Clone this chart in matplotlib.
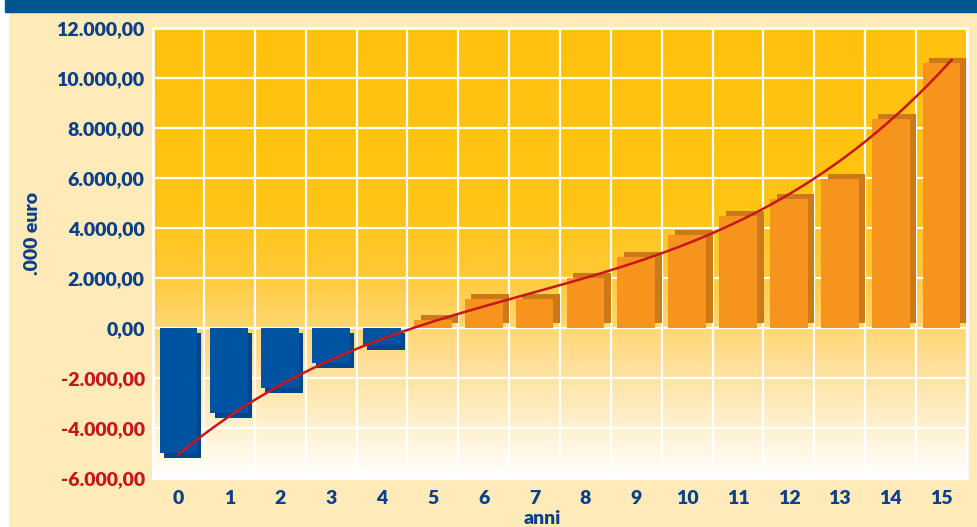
import numpy as np
import matplotlib
matplotlib.use("Agg")
import matplotlib.pyplot as plt
from matplotlib.colors import LinearSegmentedColormap
from matplotlib.patches import Rectangle

# Data (migliaia di euro)
anni = list(range(16))
valori = [-5000, -3400, -2400, -1400, -680, 320, 1160, 1150,
          2000, 2840, 3720, 4480, 5160, 5960, 8360, 10600]
y_ticks = [-6000, -4000, -2000, 0, 2000, 4000, 6000, 8000, 10000, 12000]

BLU = "#0c3f88"
ROSSO = "#c8161d"

plt.rcParams["font.family"] = ["Lato", "DejaVu Sans"]
plt.rcParams["font.weight"] = "heavy"

fig = plt.figure(figsize=(9.78, 5.27), dpi=100, facecolor="#ffebb9")

# white strip on the left and blue band on top
fig.patches.append(Rectangle((0, 0), 8 / 978, 1, transform=fig.transFigure,
                             color="white", zorder=0))
fig.patches.append(Rectangle((5 / 978, 1 - 12 / 527), 1, 12 / 527,
                             transform=fig.transFigure, color="#00558c", zorder=1))

ax = fig.add_axes([153 / 978, 49 / 527, 814 / 978, 450 / 527])
ax.set_xlim(-0.5, 15.5)
ax.set_ylim(-6000, 12000)

# background gradient: yellow on top, fading to white at the bottom
cmap = LinearSegmentedColormap.from_list("sfondo", [
    (0.0, "#ffffff"), (0.12, "#fff0cc"), (0.25, "#ffe09a"),
    (0.36, "#ffd466"), (0.46, "#ffc934"), (0.6, "#ffc414"), (1.0, "#ffc10e")])
grad = np.linspace(0, 1, 256).reshape(-1, 1)
ax.imshow(grad, cmap=cmap, origin="lower", aspect="auto",
          extent=[-0.5, 15.5, -6000, 12000], zorder=0)

# grid
ax.set_xticks(anni)
ax.set_xticks(np.arange(-0.5, 16, 1), minor=True)
ax.set_yticks(y_ticks)
ax.grid(which="minor", axis="x", color="white", lw=1.6, zorder=1)
ax.grid(which="major", axis="y", color="white", lw=1.6, zorder=1)
ax.tick_params(which="both", length=0)
for s in ax.spines.values():
    s.set_color("white")
    s.set_linewidth(2)

# bars with a shifted "shadow" behind them
larg = 0.74
for x, v in zip(anni, valori):
    if v < 0:
        ax.bar(x + 0.08, v, width=larg, bottom=-200, color="#00468e", zorder=2)
        ax.bar(x, v, width=larg, color="#0053a1", zorder=3)
    else:
        ax.bar(x + 0.13, v, width=larg, bottom=200, color="#cc7a17", zorder=2)
        ax.bar(x, v, width=larg, color="#f7941e", zorder=3)

# polynomial trend line (with a small forward forecast)
coef = np.polyfit(anni, valori, 3)
t = np.linspace(0, 15.2, 300)
ax.plot(t, np.polyval(coef, t), color=ROSSO, lw=1.8, zorder=4)

# labels
ax.set_xticklabels([str(a) for a in anni], color=BLU, fontsize=14)
ax.tick_params(axis="x", pad=9)
ax.set_yticklabels([f"{v:,.2f}".replace(",", "X").replace(".", ",").replace("X", ".")
                    for v in y_ticks], fontsize=14)
ax.tick_params(axis="y", pad=6)
for lab, v in zip(ax.get_yticklabels(), y_ticks):
    lab.set_color(ROSSO if v < 0 else BLU)

fig.text(542 / 978, 1 - 519 / 527, "anni", color=BLU, fontsize=14,
         ha="center", va="center")
fig.text(32 / 978, 1 - 233 / 527, ".000 euro", color=BLU, fontsize=14,
         rotation=90, ha="center", va="center")

fig.savefig("out.png", dpi=100, facecolor=fig.get_facecolor())
